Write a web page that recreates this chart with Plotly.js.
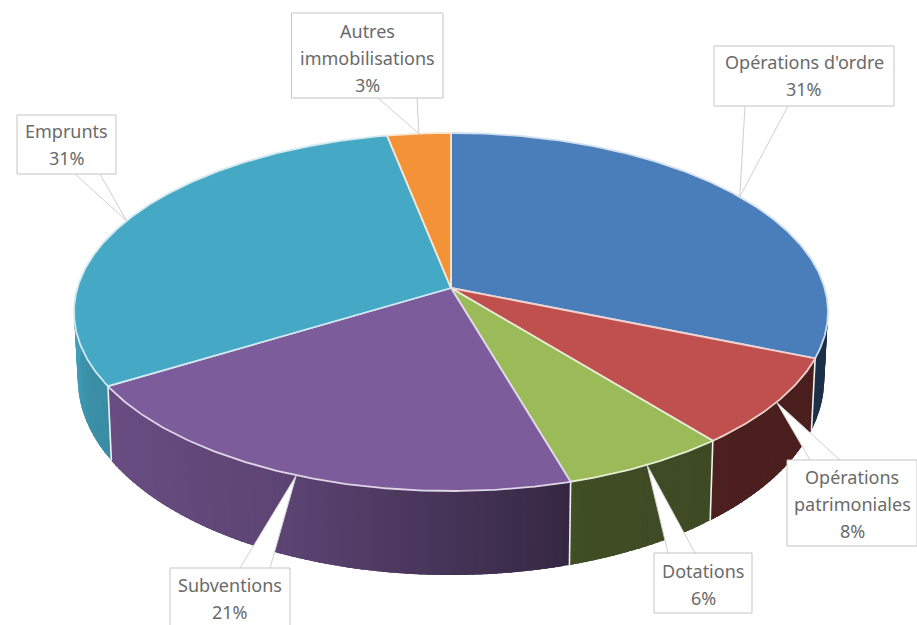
<!DOCTYPE html>
<html>
<head>
<meta charset="utf-8">
<script src="https://cdn.plot.ly/plotly-3.0.1.min.js"></script>
<style>html,body{margin:0;padding:0;background:#fff;overflow:hidden}#chart{width:917px;height:625px}</style>
</head>
<body>
<div id="chart"></div>
<script>
// Data
const categories = ["Opérations d'ordre", "Opérations patrimoniales", "Dotations", "Subventions", "Emprunts", "Autres immobilisations"];
const values = [31.2, 8.0, 6.3, 20.8, 30.6, 3.1];
const percentLabels = ["31%", "8%", "6%", "21%", "31%", "3%"];
const labelLines = [["Opérations d'ordre"], ["Opérations", "patrimoniales"], ["Dotations"], ["Subventions"], ["Emprunts"], ["Autres", "immobilisations"]];

// Style
const colors = [[74,126,187], [192,80,77], [155,187,89], [125,92,156], [69,168,196], [243,146,55]];
const boxes = [[714,46,894,106],[787,460,917,546],[654,553,752,613],[170,568,290,640],[17,115,116,174],[291.5,13,443,98]];
const bases = [[745,788],[810,840],[668,695],[240,270],[75,100],[378,417]];
const firstLine = [62,477,571,585,131,31];
const lineGap = 27;

// Projection of the tilted disc
const cx = 451, cy = 288, persp = 0.134, A = 175.8, B = 373.6;
function rimTop(t){ const w = 1 + persp*Math.cos(t); return [cx + B*Math.sin(t)/w, cy - A*Math.cos(t)/w]; }
function rimBottom(t){ const p = rimTop(t); return [cx + (p[0]-cx)*0.99, p[1] + 64 - 20*Math.cos(t)]; }
const rad = d => d*Math.PI/180;
const total = values.reduce((a,b)=>a+b,0);
let cum = 0;
const starts = [], ends = [];
values.forEach(v => { starts.push(cum/total*360); cum += v; ends.push(cum/total*360); });

function shade(s){
  const stops = [[-1,0.95],[-0.92,0.85],[-0.4,0.74],[0,0.56],[0.2,0.47],[0.3,0.41],[1,0.38]];
  for (let i=1;i<stops.length;i++) if (s<=stops[i][0]) {
    const f=(s-stops[i-1][0])/(stops[i][0]-stops[i-1][0]);
    return stops[i-1][1]+f*(stops[i][1]-stops[i-1][1]);
  }
  return 0.38;
}
const rgb = (c,k) => `rgb(${Math.round(c[0]*k)},${Math.round(c[1]*k)},${Math.round(c[2]*k)})`;
const tint = (c,f) => `rgb(${Math.round(c[0]+(255-c[0])*f)},${Math.round(c[1]+(255-c[1])*f)},${Math.round(c[2]+(255-c[2])*f)})`;

const traces = [];
const lineBase = {type:'scatter', mode:'lines', hoverinfo:'skip', showlegend:false};

// Side wall: each strip overlaps the next so no seams show
values.forEach((v,i) => {
  const a0 = Math.max(starts[i], 80), a1 = Math.min(ends[i], 280);
  for (let a=a0; a<a1; a+=1) {
    const b = Math.min(a+2.5,a1);
    const p = [rimTop(rad(a)), rimTop(rad(b)), rimBottom(rad(b)), rimBottom(rad(a)), rimTop(rad(a))];
    const col = rgb(colors[i], shade(Math.sin(rad(a+0.5))));
    traces.push(Object.assign({}, lineBase, {x:p.map(q=>q[0]), y:p.map(q=>q[1]), fill:'toself', fillcolor:col, line:{color:col,width:0}}));
  }
});
// Wall separators
starts.forEach((a,i) => {
  if (a>=90 && a<=270) {
    const p=[rimTop(rad(a)),rimBottom(rad(a))];
    traces.push(Object.assign({}, lineBase, {x:p.map(q=>q[0]), y:p.map(q=>q[1]), line:{color:'#eef2ee',width:1.6}}));
  }
});
// Top slices
values.forEach((v,i) => {
  const xs=[cx], ys=[cy];
  for (let a=starts[i]; a<ends[i]; a+=0.5){ const p=rimTop(rad(a)); xs.push(p[0]); ys.push(p[1]); }
  const e=rimTop(rad(ends[i])); xs.push(e[0],cx); ys.push(e[1],cy);
  traces.push(Object.assign({}, lineBase, {name:categories[i], x:xs, y:ys, fill:'toself', fillcolor:rgb(colors[i],1), line:{color:tint(colors[i],0.75),width:1.8}}));
});
// Callout pointers, tip at each slice's mid angle
const shapes = [], annotations = [];
values.forEach((v,i) => {
  const tip = rimTop(rad((starts[i]+ends[i])/2));
  const box = boxes[i];
  const baseY = tip[1] < box[1] ? box[1] : box[3];
  traces.push(Object.assign({}, lineBase, {x:[bases[i][0],tip[0],bases[i][1]], y:[baseY,tip[1],baseY], fill:'toself', fillcolor:'#ffffff', line:{color:'#cfcfcf',width:1}}));
  shapes.push({type:'rect', xref:'x', yref:'y', x0:box[0], y0:box[1], x1:box[2], y1:box[3], fillcolor:'#ffffff', line:{color:'#c4c4c4',width:1}, layer:'above'});
  const lines = labelLines[i].concat([percentLabels[i]]);
  lines.forEach((t,k) => annotations.push({xref:'x', yref:'y', x:(box[0]+Math.min(box[2],917))/2, y:firstLine[i]+k*lineGap, text:t, showarrow:false, xanchor:'center', yanchor:'middle', font:{family:'"Noto Sans", sans-serif', size:18, color:'#6a6a6a'}}));
});

Plotly.newPlot('chart', traces, {
  width:917, height:625, margin:{l:0,r:0,t:0,b:0}, paper_bgcolor:'#fff', plot_bgcolor:'#fff', showlegend:false,
  xaxis:{range:[0,917], visible:false, fixedrange:true},
  yaxis:{range:[625,0], visible:false, fixedrange:true},
  shapes, annotations
}, {displayModeBar:false, staticPlot:true});
</script>
</body>
</html>
